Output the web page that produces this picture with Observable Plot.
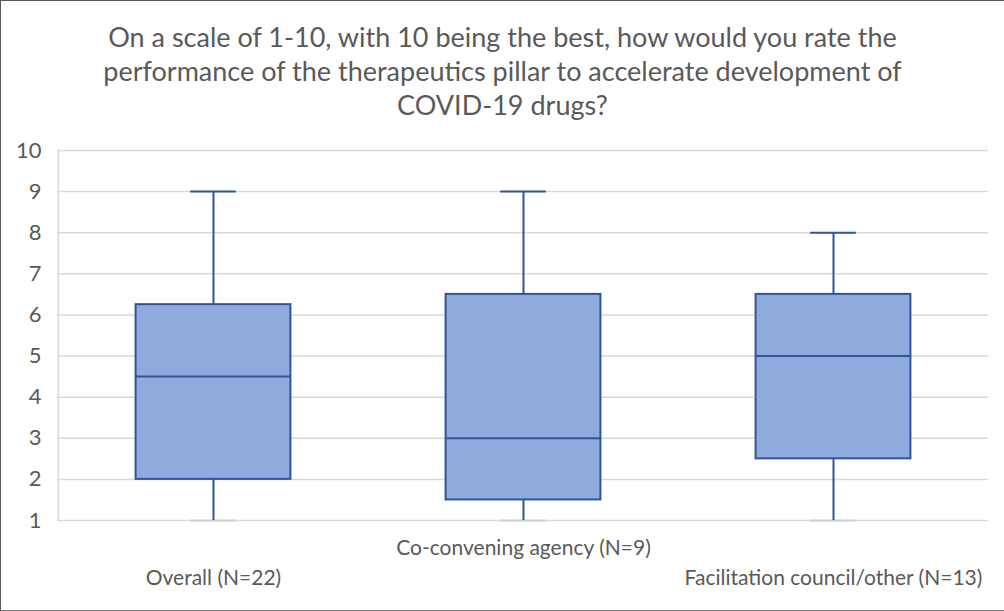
<!DOCTYPE html>
<html>
<head>
<meta charset="utf-8">
<script src="https://cdn.jsdelivr.net/npm/d3@7"></script>
<script src="https://cdn.jsdelivr.net/npm/@observablehq/plot@0.6"></script>
<style>
  html, body { margin: 0; padding: 0; background: #fff; }
  #frame { width: 1004px; height: 611px; box-sizing: border-box; border: 1px solid #595959; border-right: none; border-bottom-color: #7f7f7f; position: relative; overflow: hidden; font-family: Lato, "Open Sans", sans-serif; }
  #title { text-align: center; color: #595959; font-size: 27px; line-height: 34px; padding-top: 19px; height: 103px; box-sizing: content-box; }
  svg { display: block; }
</style>
</head>
<body>
<div id="frame">
  <div id="title">On a scale of 1-10, with 10 being the best, how would you rate the<br>performance of the therapeutics pillar to accelerate development of<br>COVID-19 drugs?</div>
  <div id="chart"></div>
</div>
<script>
const categories = ["Overall (N=22)", "Co-convening agency (N=9)", "Facilitation council/other (N=13)"];
const mins = [1, 1, 1];
const q1s = [2, 1.5, 2.5];
const medians = [4.5, 3, 5];
const q3s = [6.25, 6.5, 6.5];
const maxs = [9, 9, 8];
const yTicks = [1, 2, 3, 4, 5, 6, 7, 8, 9, 10];

const data = categories.map((c, i) => ({cat: c, min: mins[i], q1: q1s[i], med: medians[i], q3: q3s[i], max: maxs[i], row: i === 1 ? 0 : 1}));

const fill = "#8faadc", stroke = "#2f5597";
const W = 1004 - 1, H = 611 - 2 - 122;
const mL = 56, mR = 16;
const bw = (W - mL - mR) / 3;
const boxInset = bw / 4;
const capInset = (bw - 46) / 2;

const plot = Plot.plot({
  width: W, height: H,
  marginTop: 27, marginBottom: H - 397, marginLeft: mL, marginRight: mR,
  style: {fontFamily: "Lato, 'Open Sans', sans-serif", fontSize: "20px", color: "#595959", background: "transparent"},
  x: {domain: categories, padding: 0, axis: null},
  y: {domain: [1, 10], axis: null},
  marks: [
    Plot.ruleY(yTicks, {stroke: "#d9d9d9", strokeWidth: 1.5}),
    Plot.ruleX([categories[0]], {x: d => d, dx: -bw / 2, y1: 1, y2: 10, stroke: "#d9d9d9", strokeWidth: 1.5}),
    Plot.tickY(data, {x: "cat", y: "min", stroke: "#d0d0d0", strokeWidth: 2, insetLeft: capInset, insetRight: capInset}),
    Plot.ruleX(data, {x: "cat", y1: "min", y2: "q1", stroke: stroke, strokeWidth: 2}),
    Plot.ruleX(data, {x: "cat", y1: "q3", y2: "max", stroke: stroke, strokeWidth: 2}),
    Plot.tickY(data, {x: "cat", y: "max", stroke: stroke, strokeWidth: 2, insetLeft: capInset, insetRight: capInset}),
    Plot.barY(data, {x: "cat", y1: "q1", y2: "q3", fill: fill, stroke: stroke, strokeWidth: 2, insetLeft: boxInset, insetRight: boxInset}),
    Plot.tickY(data, {x: "cat", y: "med", stroke: stroke, strokeWidth: 2, insetLeft: boxInset, insetRight: boxInset}),
    Plot.text(yTicks, {y: d => d, text: d => String(d), frameAnchor: "left", textAnchor: "end", dx: -16, fill: "#595959", fontSize: 22}),
    Plot.text(data.filter(d => d.row === 0), {x: "cat", text: "cat", frameAnchor: "bottom", dy: 34, fill: "#595959", fontSize: 21}),
    Plot.text(data.filter(d => d.row === 1), {x: "cat", text: "cat", frameAnchor: "bottom", dy: 64, fill: "#595959", fontSize: 21})
  ]
});
document.getElementById("chart").appendChild(plot);
</script>
</body>
</html>
